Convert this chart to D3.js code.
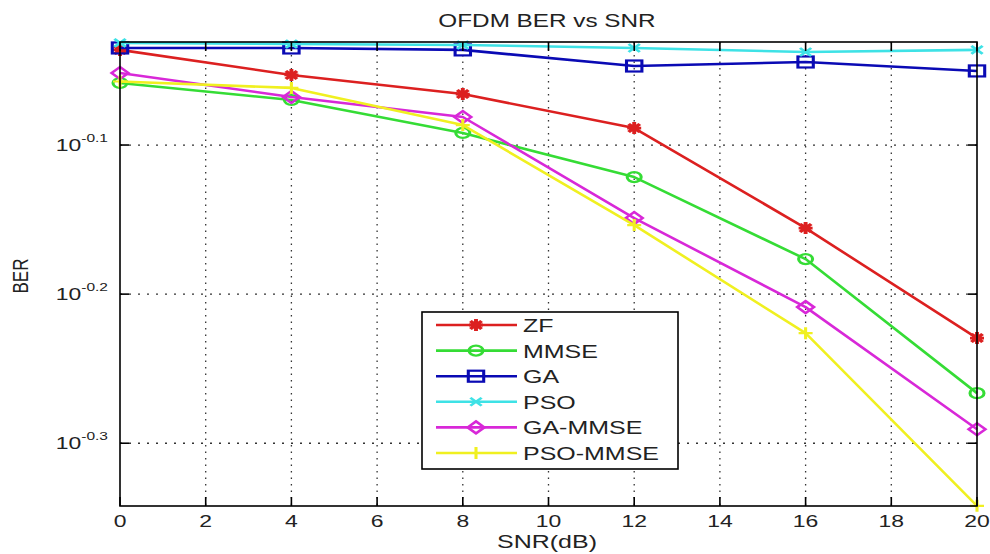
<!DOCTYPE html>
<html lang="en">
<head>
<meta charset="UTF-8">
<title>OFDM BER vs SNR</title>
<script src="https://cdnjs.cloudflare.com/ajax/libs/d3/7.8.5/d3.min.js"></script>
<style>
    body { margin: 0; background: #fff; }
    svg text { font-family: "Liberation Sans", Arial, sans-serif; fill: #222; }
</style>
</head>
<body>
<svg id="chart" width="990" height="554"></svg>
<script>
    // SNR points and BER series, read as log10(BER) from the picture
    const snr = [0, 4, 8, 12, 16, 20];
    const seriesNames = ["ZF", "MMSE", "GA", "PSO", "GA-MMSE", "PSO-MMSE"];
    const zfLog      = [-0.0362, -0.0530, -0.0658, -0.0886, -0.1557, -0.2295];
    const mmseLog    = [-0.0584, -0.0698, -0.0919, -0.1215, -0.1765, -0.2664];
    const gaLog      = [-0.0349, -0.0349, -0.0362, -0.0470, -0.0443, -0.0503];
    const psoLog     = [-0.0315, -0.0322, -0.0329, -0.0349, -0.0376, -0.0362];
    const gaMmseLog  = [-0.0517, -0.0678, -0.0812, -0.1490, -0.2087, -0.2906];
    const psoMmseLog = [-0.0574, -0.0617, -0.0866, -0.1537, -0.2262, -0.3420];
    const xTicks = [0, 2, 4, 6, 8, 10, 12, 14, 16, 18, 20];
    const yTickExp = ["-0.1", "-0.2", "-0.3"];

    const colors = ["#dc2020", "#35dc35", "#0a0ab4", "#3ee2e6", "#d828d8", "#f0f020"];
    const markers = ["star", "circle", "square", "x", "diamond", "plus"];
    const allLogs = [zfLog, mmseLog, gaLog, psoLog, gaMmseLog, psoMmseLog];

    const svg = d3.select("#chart");
    const pLeft = 120, pRight = 977, pTop = 42, pBottom = 506;
    const stretch = 1.35; // the picture is wider than tall, text looks stretched

    const x = d3.scaleLinear().domain([0, 20]).range([pLeft, pRight]);
    const y = d3.scaleLog().domain([Math.pow(10, -0.3421), Math.pow(10, -0.0309)]).range([pBottom, pTop]);

    function label(px, py, str, size, anchor, rot) {
        return svg.append("text")
            .attr("transform", `translate(${px},${py}) scale(${stretch},1)` + (rot ? ` rotate(${rot})` : ""))
            .attr("text-anchor", anchor).attr("font-size", size).text(str);
    }

    // grid
    const grid = svg.append("g").attr("stroke", "#333").attr("stroke-width", 1.3);
    xTicks.slice(1, -1).forEach(t => {
        grid.append("line").attr("x1", x(t)).attr("x2", x(t)).attr("y1", pTop).attr("y2", pBottom)
            .attr("stroke-dasharray", "1.5,5");
    });
    yTickExp.forEach(e => {
        const v = Math.pow(10, +e);
        grid.append("line").attr("x1", pLeft).attr("x2", pRight).attr("y1", y(v)).attr("y2", y(v))
            .attr("stroke-dasharray", "2,7");
    });

    // series
    const line = d3.line().x((d, i) => x(snr[i])).y(d => y(Math.pow(10, d)));

    function drawMarker(g, kind, cx, cy, color) {
        const m = g.append("g").attr("transform", `translate(${cx},${cy}) scale(1.4,1)`)
            .attr("stroke", color).attr("stroke-width", 2.2).attr("fill", "none");
        if (kind === "circle") m.append("circle").attr("r", 5);
        if (kind === "square") m.append("rect").attr("x", -5.5).attr("y", -5.5).attr("width", 11).attr("height", 11);
        if (kind === "diamond") m.append("path").attr("d", "M0,-6L6,0L0,6L-6,0Z");
        if (kind === "plus") m.append("path").attr("d", "M-5,0H5M0,-6V6");
        if (kind === "x") m.append("path").attr("d", "M-4,-4L4,4M-4,4L4,-4");
        if (kind === "star") {
            m.append("path").attr("d", "M-5,0H5M0,-6V6M-4,-4L4,4M-4,4L4,-4").attr("stroke-width", 2.8);
        }
    }

    allLogs.forEach((vals, k) => {
        const g = svg.append("g");
        g.append("path").datum(vals).attr("d", line)
            .attr("fill", "none").attr("stroke", colors[k]).attr("stroke-width", 2.6)
            .attr("stroke-linejoin", "round");
        vals.forEach((v, i) => drawMarker(g, markers[k], x(snr[i]), y(Math.pow(10, v)), colors[k]));
    });

    // axes box
    svg.append("rect").attr("x", pLeft).attr("y", pTop).attr("width", pRight - pLeft).attr("height", pBottom - pTop)
        .attr("fill", "none").attr("stroke", "#000").attr("stroke-width", 1.6);

    const ticks = svg.append("g").attr("stroke", "#000").attr("stroke-width", 1.6);
    xTicks.forEach(t => {
        ticks.append("line").attr("x1", x(t)).attr("x2", x(t)).attr("y1", pBottom).attr("y2", pBottom - 9);
        ticks.append("line").attr("x1", x(t)).attr("x2", x(t)).attr("y1", pTop).attr("y2", pTop + 9);
    });
    yTickExp.forEach(e => {
        const v = Math.pow(10, +e);
        ticks.append("line").attr("x1", pLeft).attr("x2", pLeft + 9).attr("y1", y(v)).attr("y2", y(v));
        ticks.append("line").attr("x1", pRight).attr("x2", pRight - 9).attr("y1", y(v)).attr("y2", y(v));
    });

    // tick labels
    xTicks.forEach(t => label(x(t), 527, t, 17, "middle"));

    yTickExp.forEach(e => {
        const t = label(108, y(Math.pow(10, +e)) + 6, null, 17, "end");
        t.append("tspan").text("10");
        t.append("tspan").attr("dy", -9).attr("font-size", 11.5).text(e);
    });

    // titles
    label(547, 27, "OFDM BER vs SNR", 18, "middle");
    label(547, 548, "SNR(dB)", 18.5, "middle");
    label(28, 276, "BER", 17, "middle", -90);

    // legend
    const legend = svg.append("g");
    legend.append("rect").attr("x", 422).attr("y", 312).attr("width", 256).attr("height", 157)
        .attr("fill", "#fff").attr("stroke", "#000").attr("stroke-width", 1.6);
    seriesNames.forEach((name, k) => {
        const ly = 325 + k * 25.6;
        legend.append("line").attr("x1", 436).attr("x2", 517).attr("y1", ly).attr("y2", ly)
            .attr("stroke", colors[k]).attr("stroke-width", 2.6);
        drawMarker(legend, markers[k], 476, ly, colors[k]);
        label(523, ly + 7, name, 18.5, "start");
    });
</script>
</body>
</html>
